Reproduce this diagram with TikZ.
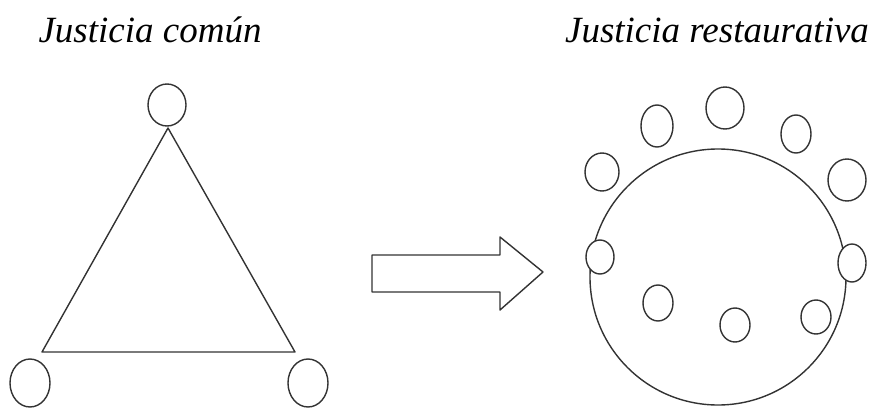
\documentclass[tikz,border=0pt]{standalone}
\usepackage{fontspec}
\setmainfont{Liberation Serif}
\usetikzlibrary{shapes.geometric}

\begin{document}
\begin{tikzpicture}[x=1pt, y=-1pt,
    title/.style={font=\fontsize{37}{40}\selectfont\itshape, inner sep=0pt},
    person/.style={draw=black!80, fill=white, line width=1.4pt, ellipse,
                   inner sep=0pt, minimum width=#1},
    person/.default=32pt,
    outline/.style={draw=black!80, line width=1.4pt, line join=round}
]
    \useasboundingbox (0,0) rectangle (876,410);

    % titles
    \node[title] (comun) at (150,30) {Justicia común};
    \node[title] (restaurativa) at (717,30) {Justicia restaurativa};

    % common justice: triangle
    \coordinate (apex) at (168,128);
    \coordinate (left) at (42,352);
    \coordinate (right) at (295,352);
    \draw[outline] (apex) -- (left) -- (right) -- cycle;
    \node[person=38pt, minimum height=42pt] (judge) at (167,105) {};
    \node[person=40pt, minimum height=48pt] (offender) at (30,383) {};
    \node[person=40pt, minimum height=48pt] (victim) at (308,383) {};

    % transition arrow
    \draw[outline] (372,255) -- (500,255) -- (500,237) -- (543,272)
        -- (500,310) -- (500,292) -- (372,292) -- cycle;

    % restorative justice: circle of participants
    \node[draw=black!80, line width=1.4pt, circle, minimum size=256pt,
          inner sep=0pt] (community) at (718,277) {};
    \node[person=34pt, minimum height=38pt] (p1) at (602,172) {};
    \node[person=32pt, minimum height=42pt] (p2) at (657,126) {};
    \node[person=38pt, minimum height=42pt] (p3) at (725,108) {};
    \node[person=30pt, minimum height=38pt] (p4) at (796,134) {};
    \node[person=38pt, minimum height=42pt] (p5) at (847,180) {};
    \node[person=28pt, minimum height=34pt] (p6) at (600,257) {};
    \node[person=28pt, minimum height=38pt] (p7) at (852,263) {};
    \node[person=30pt, minimum height=36pt] (p8) at (658,303) {};
    \node[person=30pt, minimum height=34pt] (p9) at (735,325) {};
    \node[person=30pt, minimum height=34pt] (p10) at (816,317) {};
\end{tikzpicture}
\end{document}
